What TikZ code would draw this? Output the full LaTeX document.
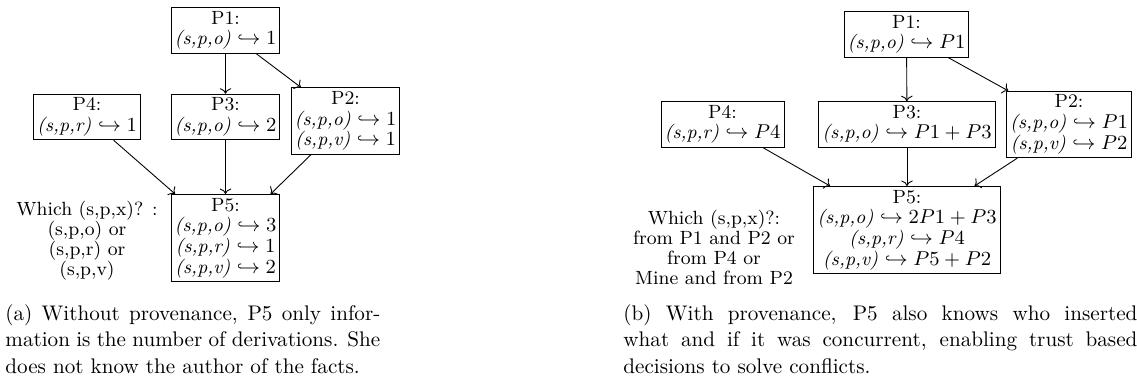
\documentclass[tikz,border=0pt]{standalone}
\usepackage{amsmath,amssymb}
\usepackage{tikz}
\usetikzlibrary{arrows.meta,positioning}
\newcommand{\tri}[1]{\textit{(#1)}}
\tikzset{
  peer/.style={draw,align=center,inner sep=1.6pt,font=\fontsize{8.6}{9.3}\selectfont},
  kerdes/.style={align=center,inner sep=0pt,font=\fontsize{8.6}{9}\selectfont},
  nyil/.style={->},
  felirat/.style={anchor=north west,inner sep=0pt,align=justify,font=\fontsize{9.5}{11.9}\selectfont},
}

\begin{document}
\begin{tikzpicture}[x=0.4494pt,y=-0.4494pt]
  \useasboundingbox (0,0) rectangle (1137,380);
  % (a) without provenance
  \node[peer] (a1) at (225.5,30.5) {P1:\\ \tri{s,p,o} $\hookrightarrow 1$};
  \node[peer] (a3) at (225.5,117) {P3:\\ \tri{s,p,o} $\hookrightarrow 2$};
  \node[peer] (a4) at (87,117) {P4:\\ \tri{s,p,r} $\hookrightarrow 1$};
  \node[peer] (a2) at (345.5,121) {P2:\\ \tri{s,p,o} $\hookrightarrow 1$\\ \tri{s,p,v} $\hookrightarrow 1$};
  \node[peer] (a5) at (225.5,238) {P5:\\ \tri{s,p,o} $\hookrightarrow 3$\\ \tri{s,p,r} $\hookrightarrow 1$\\ \tri{s,p,v} $\hookrightarrow 2$};
  \node[kerdes] (aq) at (87,241) {Which (s,p,x)? :\\ (s,p,o) or\\ (s,p,r) or\\ (s,p,v)};
  \foreach \u/\v in {a1/a3,a1/a2,a4/a5,a3/a5,a2/a5}
    \draw[nyil] (\u) -- (\v);
  \node[felirat,text width=168.5pt] (acap) at (5,304)
    {(a) Without provenance, P5 only infor-\linebreak mation is the number of derivations. She\linebreak does not know the author of the facts.};

  % (b) with provenance
  \node[peer] (b1) at (906.5,34.5) {P1:\\ \tri{s,p,o} $\hookrightarrow P1$};
  \node[peer] (b3) at (907,124.5) {P3:\\ \tri{s,p,o} $\hookrightarrow P1 + P3$};
  \node[peer] (b4) at (722.5,124.5) {P4:\\ \tri{s,p,r} $\hookrightarrow P4$};
  \node[peer] (b2) at (1069,124.5) {P2:\\ \tri{s,p,o} $\hookrightarrow P1$\\ \tri{s,p,v} $\hookrightarrow P2$};
  \node[peer] (b5) at (907,230) {P5:\\ \tri{s,p,o} $\hookrightarrow 2P1 + P3$\\ \tri{s,p,r} $\hookrightarrow P4$\\ \tri{s,p,v} $\hookrightarrow P5 + P2$};
  \node[kerdes] (bq) at (714,247) {Which (s,p,x)?:\\ from P1 and P2 or\\ from P4 or\\ Mine and from P2};
  \foreach \u/\v in {b1/b3,b1/b2,b4/b5,b3/b5,b2/b5}
    \draw[nyil] (\u) -- (\v);
  \node[felirat,text width=231pt] (bcap) at (623,304)
    {(b) With provenance, P5 also knows who inserted\linebreak what and if it was concurrent, enabling trust based\linebreak decisions to solve conflicts.};
\end{tikzpicture}
\end{document}
